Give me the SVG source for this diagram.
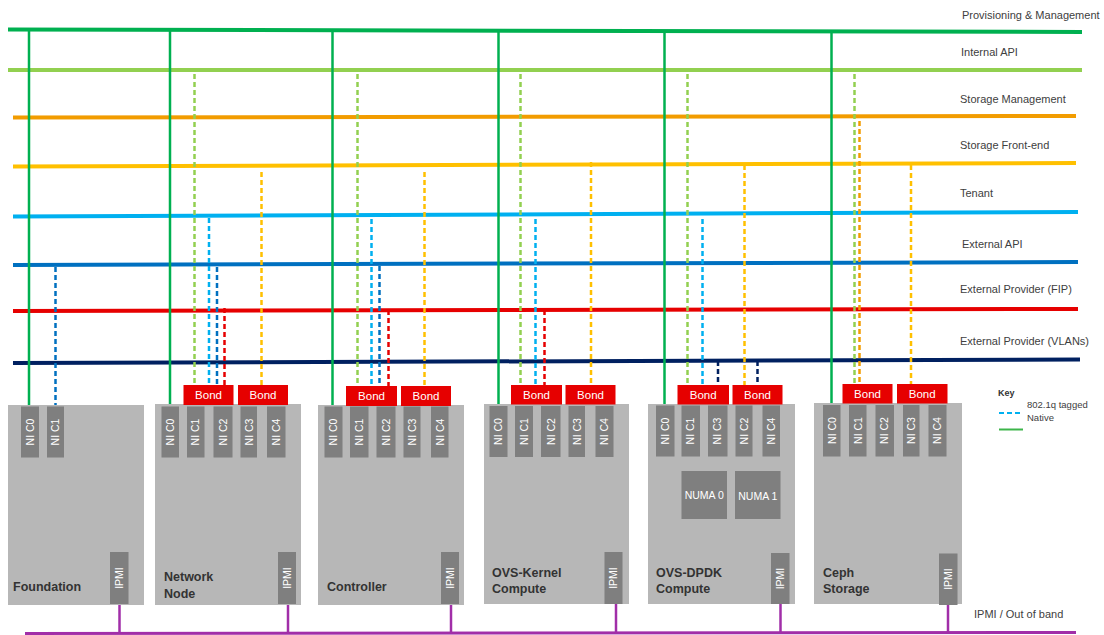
<svg xmlns="http://www.w3.org/2000/svg" width="1104" height="635" viewBox="0 0 1104 635">
<style>
.lbl{font-family:"Liberation Sans",Arial,sans-serif;font-size:11px;fill:#404040}
.node{fill:#b7b7b7}
.nic{fill:#7f7f7f}
.nt{font-family:"Liberation Sans",Arial,sans-serif;font-size:10.5px;fill:#ffffff;text-anchor:middle}
.bond{fill:#e60000}
.bt{font-family:"Liberation Sans",Arial,sans-serif;font-size:11.5px;fill:#ffffff;text-anchor:middle}
.name{font-family:"Liberation Sans",Arial,sans-serif;font-size:12.5px;font-weight:bold;fill:#333333}
.h{stroke-width:4;fill:none}
.nat{stroke:#00b050;stroke-width:2.5;fill:none}
.tag{stroke-width:2.5;stroke-dasharray:5 3;fill:none}
.ipmi{stroke:#a12ea8;stroke-width:2.5;fill:none}
</style>
<rect width="1104" height="635" fill="#ffffff"/>

<g id="networks">
<line class="h" x1="8" y1="29.5" x2="1082" y2="32" stroke="#00b050"/>
<line class="h" x1="8" y1="70" x2="1082" y2="70" stroke="#92d050"/>
<line class="h" x1="13" y1="117.5" x2="1076" y2="116" stroke="#f29c00"/>
<line class="h" x1="13" y1="166.5" x2="1076" y2="163" stroke="#ffc000"/>
<line class="h" x1="13" y1="216.5" x2="1078" y2="212" stroke="#00b0f0"/>
<line class="h" x1="13" y1="265" x2="1078" y2="262" stroke="#0070c0"/>
<line class="h" x1="13" y1="311" x2="1078" y2="309" stroke="#e60000"/>
<line class="h" x1="13" y1="363" x2="1080" y2="359.5" stroke="#002060"/>
<line x1="25" y1="633.5" x2="1076" y2="632.5" stroke="#a12ea8" stroke-width="3"/>
<text class="lbl" x="962" y="19">Provisioning &amp; Management</text>
<text class="lbl" x="961" y="56">Internal API</text>
<text class="lbl" x="960" y="102.5">Storage Management</text>
<text class="lbl" x="960" y="149">Storage Front-end</text>
<text class="lbl" x="960" y="197">Tenant</text>
<text class="lbl" x="962" y="248">External API</text>
<text class="lbl" x="960" y="293">External Provider (FIP)</text>
<text class="lbl" x="960" y="345">External Provider (VLANs)</text>
<text class="lbl" x="974" y="618">IPMI / Out of band</text>
</g>

<g id="connectors">
<line class="nat" x1="29" y1="31" x2="29" y2="407"/>
<line class="nat" x1="170" y1="31" x2="170" y2="406"/>
<line class="nat" x1="332.5" y1="31" x2="332.5" y2="407"/>
<line class="nat" x1="498.5" y1="31" x2="498.5" y2="406"/>
<line class="nat" x1="664.5" y1="31" x2="664.5" y2="406"/>
<line class="nat" x1="831.5" y1="31" x2="831.5" y2="405"/>
<line class="tag" x1="55.5" y1="267" x2="55.5" y2="407" stroke="#0070c0"/>
<line class="tag" x1="194.5" y1="74" x2="194.5" y2="385" stroke="#92d050"/>
<line class="tag" x1="209" y1="218" x2="209" y2="385" stroke="#00b0f0"/>
<line class="tag" x1="217" y1="267" x2="217" y2="385" stroke="#0070c0"/>
<line class="tag" x1="224.5" y1="308" x2="224.5" y2="385" stroke="#e60000"/>
<line class="tag" x1="261.5" y1="172" x2="261.5" y2="385" stroke="#ffc000"/>
<line class="tag" x1="357.5" y1="74" x2="357.5" y2="386" stroke="#92d050"/>
<line class="tag" x1="371.5" y1="219" x2="371.5" y2="386" stroke="#00b0f0"/>
<line class="tag" x1="379.5" y1="266" x2="379.5" y2="386" stroke="#0070c0"/>
<line class="tag" x1="388.5" y1="310" x2="388.5" y2="386" stroke="#e60000"/>
<line class="tag" x1="424.5" y1="172" x2="424.5" y2="386" stroke="#ffc000"/>
<line class="tag" x1="520.5" y1="74" x2="520.5" y2="385" stroke="#92d050"/>
<line class="tag" x1="535.5" y1="219" x2="535.5" y2="385" stroke="#00b0f0"/>
<line class="tag" x1="544.5" y1="310" x2="544.5" y2="385" stroke="#e60000"/>
<line class="tag" x1="591" y1="162" x2="591" y2="385" stroke="#ffc000"/>
<line class="tag" x1="687.5" y1="74" x2="687.5" y2="385" stroke="#92d050"/>
<line class="tag" x1="702.5" y1="219" x2="702.5" y2="385" stroke="#00b0f0"/>
<line class="tag" x1="744.5" y1="165" x2="744.5" y2="385" stroke="#ffc000"/>
<line class="tag" x1="718" y1="361" x2="718" y2="385" stroke="#002060"/>
<line class="tag" x1="757.5" y1="361" x2="757.5" y2="385" stroke="#002060"/>
<line class="tag" x1="854.5" y1="74" x2="854.5" y2="384" stroke="#92d050"/>
<line class="tag" x1="859.5" y1="121" x2="859.5" y2="384" stroke="#f29c00"/>
<line class="tag" x1="911" y1="165" x2="911" y2="384" stroke="#ffc000"/>
<line class="ipmi" x1="119.5" y1="604" x2="119.5" y2="633"/>
<line class="ipmi" x1="288" y1="604" x2="288" y2="633"/>
<line class="ipmi" x1="451" y1="604" x2="451" y2="633"/>
<line class="ipmi" x1="616" y1="604" x2="616" y2="633"/>
<line class="ipmi" x1="780.5" y1="604" x2="780.5" y2="633"/>
<line class="ipmi" x1="948" y1="604" x2="948" y2="633"/>
</g>

<g id="foundation">
<rect class="node" x="8" y="405" width="136" height="200"/>
<rect class="nic" x="21" y="406.5" width="18" height="51"/>
<text class="nt" transform="translate(30,432) rotate(-90)" dy="3.7">NI C0</text>
<rect class="nic" x="47" y="406.5" width="17" height="51"/>
<text class="nt" transform="translate(55.5,432) rotate(-90)" dy="3.7">NI C1</text>
<rect class="nic" x="110" y="552" width="18.5" height="52"/>
<text class="nt" transform="translate(119.5,578) rotate(-90)" dy="3.7">IPMI</text>
<text class="name" x="13" y="590.5">Foundation</text>
</g>

<g id="network-node">
<rect class="node" x="155" y="404" width="146" height="201"/>
<rect class="nic" x="161.5" y="406.5" width="17.5" height="51"/>
<text class="nt" transform="translate(170.3,432) rotate(-90)" dy="3.7">NI C0</text>
<rect class="nic" x="187" y="406.5" width="17.5" height="51"/>
<text class="nt" transform="translate(195.7,432) rotate(-90)" dy="3.7">NI C1</text>
<rect class="nic" x="213.5" y="406.5" width="19" height="51"/>
<text class="nt" transform="translate(223,432) rotate(-90)" dy="3.7">NI C2</text>
<rect class="nic" x="240.5" y="406.5" width="16.5" height="51"/>
<text class="nt" transform="translate(248.8,432) rotate(-90)" dy="3.7">NI C3</text>
<rect class="nic" x="267" y="406.5" width="18.5" height="51"/>
<text class="nt" transform="translate(276.2,432) rotate(-90)" dy="3.7">NI C4</text>
<rect class="nic" x="278" y="552" width="18" height="52"/>
<text class="nt" transform="translate(287,578) rotate(-90)" dy="3.7">IPMI</text>
<rect class="bond" x="183.5" y="385" width="50" height="20"/>
<text class="bt" x="208.5" y="399">Bond</text>
<rect class="bond" x="238" y="385" width="50" height="20"/>
<text class="bt" x="263" y="399">Bond</text>
<text class="name" x="164" y="581">Network</text>
<text class="name" x="164" y="597.5">Node</text>
</g>

<g id="controller">
<rect class="node" x="318" y="405" width="146" height="200"/>
<rect class="nic" x="324.5" y="406.5" width="18" height="51"/>
<text class="nt" transform="translate(333.5,432) rotate(-90)" dy="3.7">NI C0</text>
<rect class="nic" x="350" y="406.5" width="18.5" height="51"/>
<text class="nt" transform="translate(359.2,432) rotate(-90)" dy="3.7">NI C1</text>
<rect class="nic" x="376.5" y="406.5" width="19" height="51"/>
<text class="nt" transform="translate(386,432) rotate(-90)" dy="3.7">NI C2</text>
<rect class="nic" x="403.5" y="406.5" width="17" height="51"/>
<text class="nt" transform="translate(412,432) rotate(-90)" dy="3.7">NI C3</text>
<rect class="nic" x="431" y="406.5" width="17.5" height="51"/>
<text class="nt" transform="translate(439.8,432) rotate(-90)" dy="3.7">NI C4</text>
<rect class="nic" x="441" y="552" width="18" height="52"/>
<text class="nt" transform="translate(450,578) rotate(-90)" dy="3.7">IPMI</text>
<rect class="bond" x="346" y="386" width="51" height="20"/>
<text class="bt" x="371.5" y="400">Bond</text>
<rect class="bond" x="401" y="386" width="50" height="20"/>
<text class="bt" x="426" y="400">Bond</text>
<text class="name" x="327" y="590.5">Controller</text>
</g>

<g id="ovs-kernel-compute">
<rect class="node" x="484" y="404" width="145" height="200"/>
<rect class="nic" x="489.5" y="406" width="18" height="51"/>
<text class="nt" transform="translate(498.5,431.5) rotate(-90)" dy="3.7">NI C0</text>
<rect class="nic" x="515" y="406" width="18" height="51"/>
<text class="nt" transform="translate(524,431.5) rotate(-90)" dy="3.7">NI C1</text>
<rect class="nic" x="541" y="406" width="19.5" height="51"/>
<text class="nt" transform="translate(550.8,431.5) rotate(-90)" dy="3.7">NI C2</text>
<rect class="nic" x="568.5" y="406" width="16.5" height="51"/>
<text class="nt" transform="translate(576.8,431.5) rotate(-90)" dy="3.7">NI C3</text>
<rect class="nic" x="595.5" y="406" width="18" height="51"/>
<text class="nt" transform="translate(604.5,431.5) rotate(-90)" dy="3.7">NI C4</text>
<rect class="nic" x="604.5" y="552" width="18" height="52"/>
<text class="nt" transform="translate(613.5,578) rotate(-90)" dy="3.7">IPMI</text>
<rect class="bond" x="511" y="385" width="51" height="19.5"/>
<text class="bt" x="536.5" y="398.5">Bond</text>
<rect class="bond" x="565.5" y="385" width="50" height="19.5"/>
<text class="bt" x="590.5" y="398.5">Bond</text>
<text class="name" x="492" y="576.5">OVS-Kernel</text>
<text class="name" x="492" y="593">Compute</text>
</g>

<g id="ovs-dpdk-compute">
<rect class="node" x="648" y="404" width="147" height="200"/>
<rect class="nic" x="656" y="405.5" width="18.5" height="51"/>
<text class="nt" transform="translate(665.2,431) rotate(-90)" dy="3.7">NI C0</text>
<rect class="nic" x="681.5" y="405.5" width="18.5" height="51"/>
<text class="nt" transform="translate(690.7,431) rotate(-90)" dy="3.7">NI C1</text>
<rect class="nic" x="708" y="405.5" width="19.5" height="51"/>
<text class="nt" transform="translate(717.7,431) rotate(-90)" dy="3.7">NI C3</text>
<rect class="nic" x="735.5" y="405.5" width="17" height="51"/>
<text class="nt" transform="translate(744,431) rotate(-90)" dy="3.7">NI C2</text>
<rect class="nic" x="762.5" y="405.5" width="17.5" height="51"/>
<text class="nt" transform="translate(771.2,431) rotate(-90)" dy="3.7">NI C4</text>
<rect class="nic" x="681.5" y="471" width="45.5" height="48"/>
<text class="nt" x="704.2" y="498.5" font-size="11">NUMA 0</text>
<rect class="nic" x="735" y="471" width="45.5" height="48"/>
<text class="nt" x="757.8" y="499.5" font-size="11">NUMA 1</text>
<rect class="nic" x="771" y="553" width="18.5" height="51"/>
<text class="nt" transform="translate(780.2,578.5) rotate(-90)" dy="3.7">IPMI</text>
<rect class="bond" x="677.5" y="385" width="51.5" height="19.5"/>
<text class="bt" x="703.2" y="398.5">Bond</text>
<rect class="bond" x="732.5" y="385" width="50" height="19.5"/>
<text class="bt" x="757.5" y="398.5">Bond</text>
<text class="name" x="656" y="576.5">OVS-DPDK</text>
<text class="name" x="656" y="593">Compute</text>
</g>

<g id="ceph-storage">
<rect class="node" x="814" y="403" width="148" height="201"/>
<rect class="nic" x="823" y="405" width="17.5" height="51.5"/>
<text class="nt" transform="translate(831.8,430.5) rotate(-90)" dy="3.7">NI C0</text>
<rect class="nic" x="849" y="405" width="17.5" height="51.5"/>
<text class="nt" transform="translate(857.8,430.5) rotate(-90)" dy="3.7">NI C1</text>
<rect class="nic" x="875.5" y="405" width="18.5" height="51.5"/>
<text class="nt" transform="translate(884.7,430.5) rotate(-90)" dy="3.7">NI C2</text>
<rect class="nic" x="903" y="405" width="16.5" height="51.5"/>
<text class="nt" transform="translate(911.2,430.5) rotate(-90)" dy="3.7">NI C3</text>
<rect class="nic" x="928.5" y="405" width="18" height="51.5"/>
<text class="nt" transform="translate(937.5,430.5) rotate(-90)" dy="3.7">NI C4</text>
<rect class="nic" x="939" y="553.5" width="18.5" height="51.5"/>
<text class="nt" transform="translate(948.2,579) rotate(-90)" dy="3.7">IPMI</text>
<rect class="bond" x="842.5" y="384" width="50" height="19.5"/>
<text class="bt" x="867.5" y="397.5">Bond</text>
<rect class="bond" x="897" y="384" width="50.5" height="19.5"/>
<text class="bt" x="922.2" y="397.5">Bond</text>
<text class="name" x="823" y="576.5">Ceph</text>
<text class="name" x="823" y="593">Storage</text>
</g>

<g id="key">
<text x="998" y="396" font-family="Liberation Sans,Arial,sans-serif" font-size="9" font-weight="bold" fill="#333333">Key</text>
<text x="1027" y="408" font-family="Liberation Sans,Arial,sans-serif" font-size="9.5" fill="#404040">802.1q tagged</text>
<text x="1027" y="421" font-family="Liberation Sans,Arial,sans-serif" font-size="9.5" fill="#404040">Native</text>
<line x1="999" y1="413" x2="1023" y2="413" stroke="#00b0f0" stroke-width="2" stroke-dasharray="5 3"/>
<line x1="999" y1="429.5" x2="1023" y2="429.5" stroke="#3cb54a" stroke-width="2"/>
</g>
</svg>
